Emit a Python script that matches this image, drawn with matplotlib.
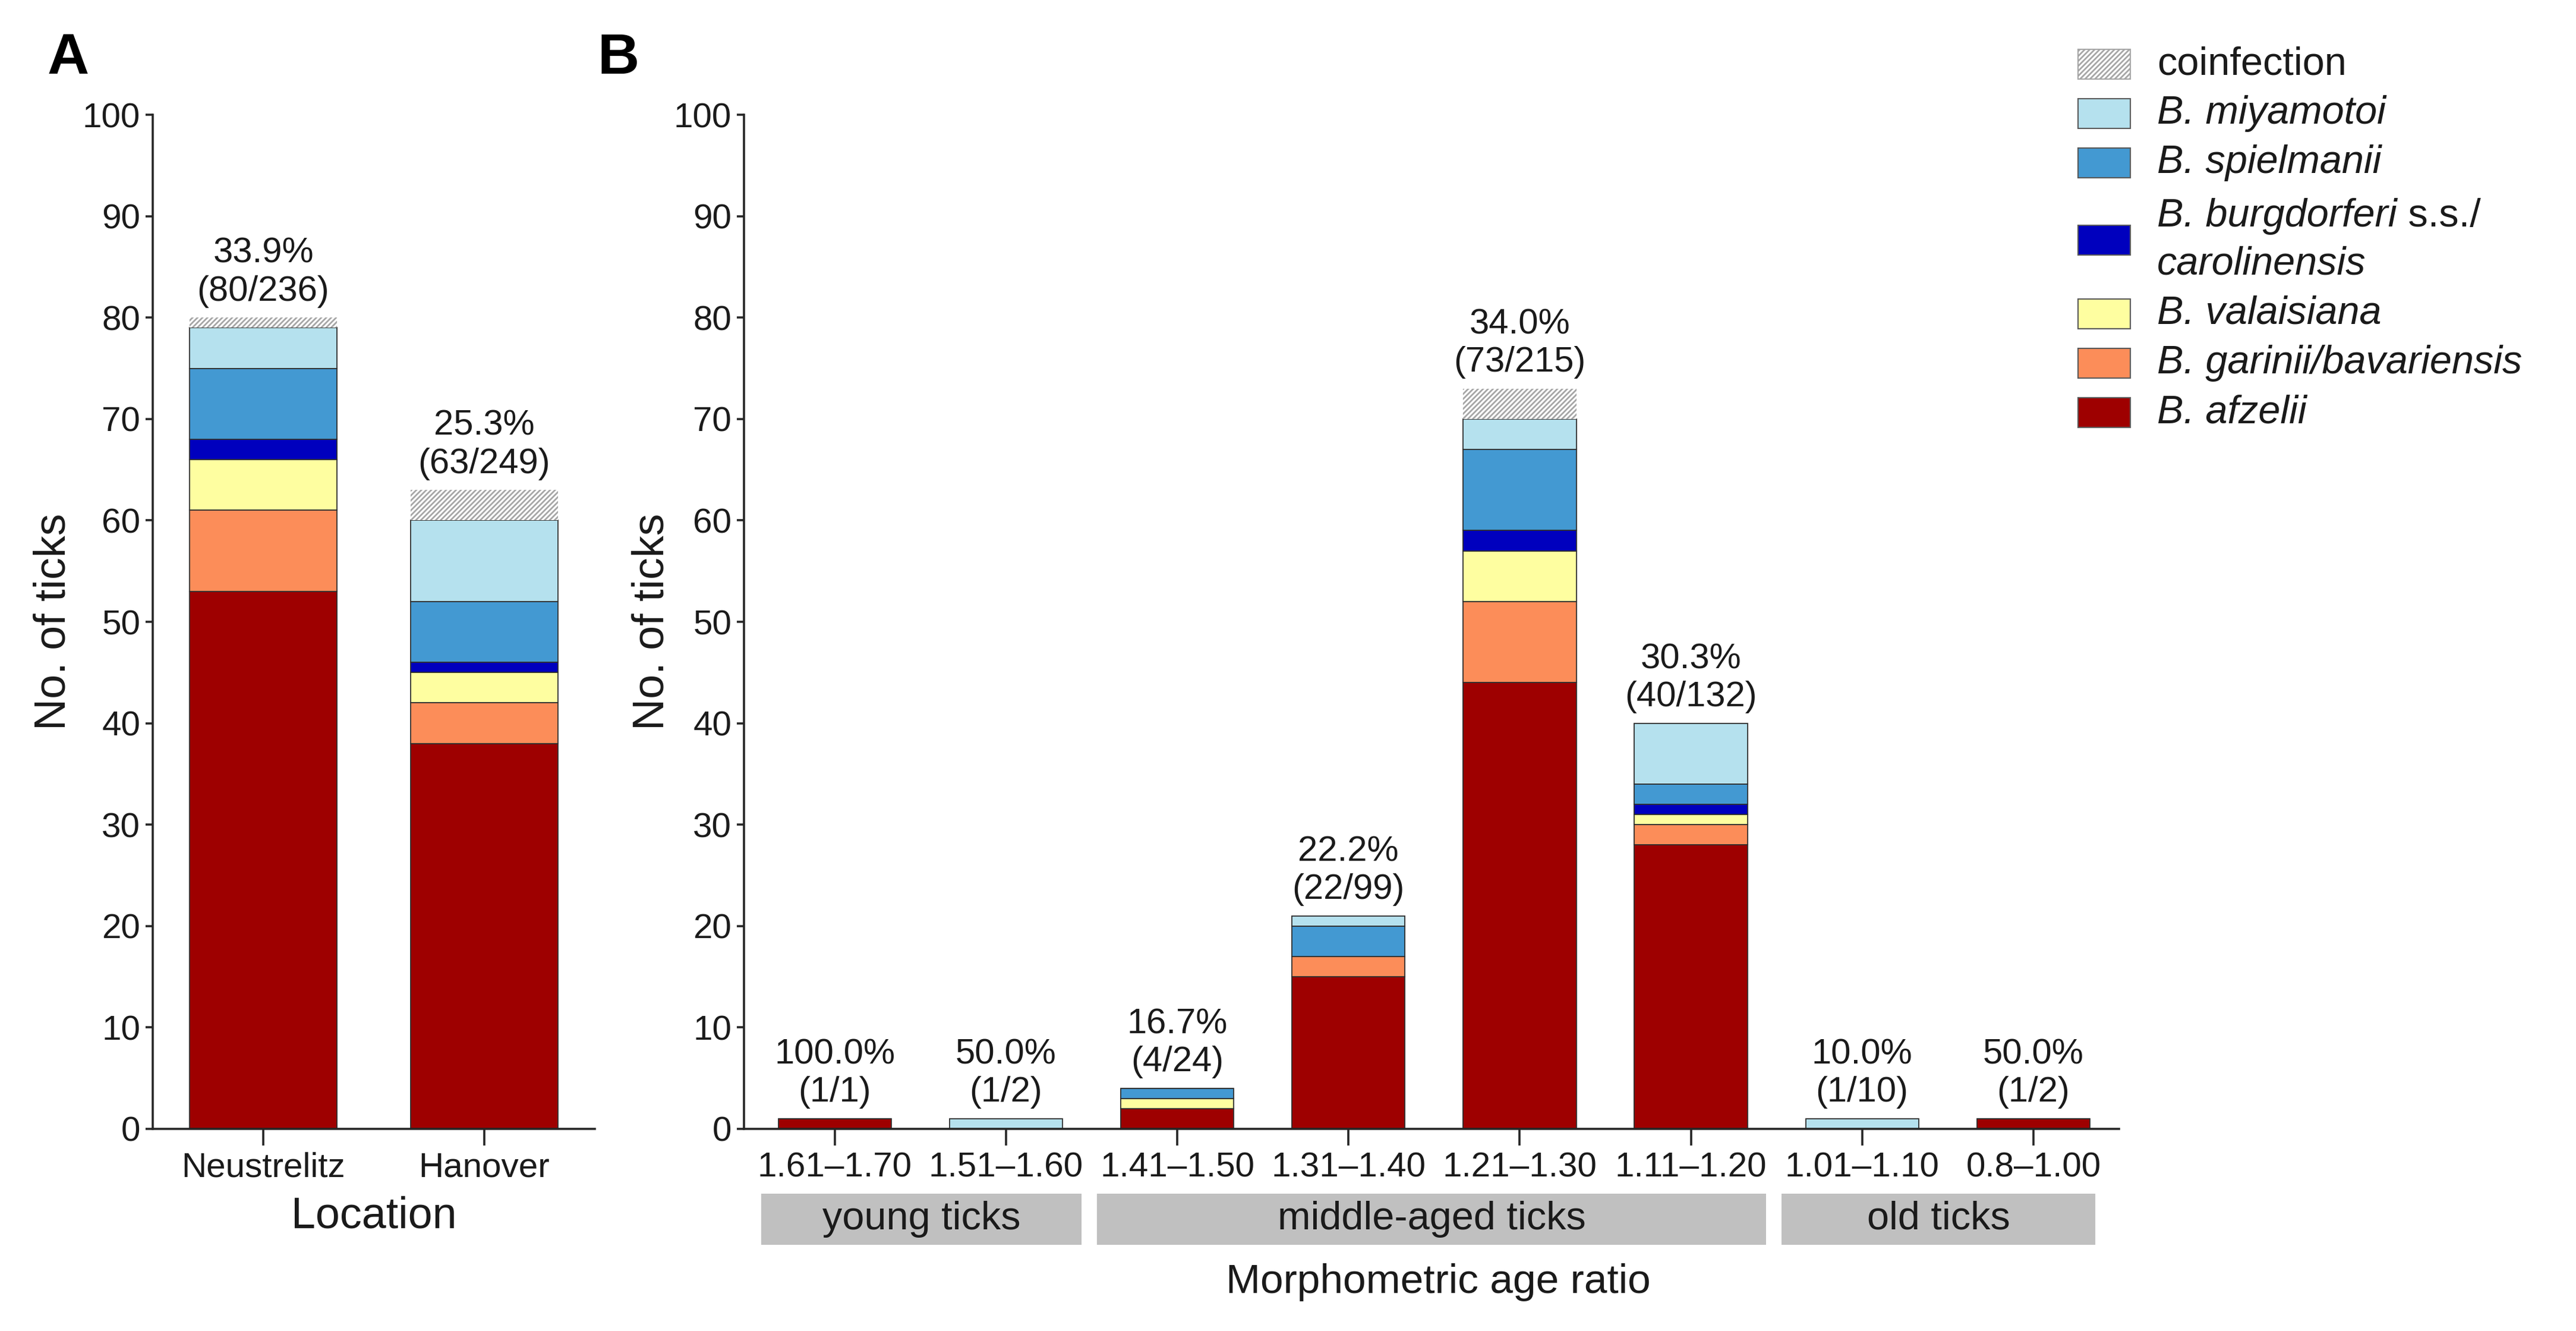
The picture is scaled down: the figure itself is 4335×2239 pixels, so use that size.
import matplotlib
matplotlib.use('Agg')
import matplotlib.pyplot as plt
import matplotlib.transforms as mtransforms
from matplotlib.patches import Rectangle
import numpy as np

plt.rcParams['font.family'] = ['Liberation Sans', 'DejaVu Sans']
plt.rcParams['hatch.linewidth'] = 2.0

# ---------------- data ----------------
species = ['B. afzelii', 'B. garinii/bavariensis', 'B. valaisiana',
           'B. burgdorferi s.s./carolinensis', 'B. spielmanii', 'B. miyamotoi', 'coinfection']
# legend text: list of lines, each line a list of (text, italic) pieces
legend_labels = [[[('B. afzelii', True)]],
                 [[('B. garinii/bavariensis', True)]],
                 [[('B. valaisiana', True)]],
                 [[('B. burgdorferi', True), (' s.s./', False)], [('carolinensis', True)]],
                 [[('B. spielmanii', True)]],
                 [[('B. miyamotoi', True)]],
                 [[('coinfection', False)]]]
colors = ['#9E0000', '#FC8D59', '#FEFEA0', '#0000BE', '#4399D2', '#B5E1EE', 'white']

locations = ['Neustrelitz', 'Hanover']
loc_afzelii = [53, 38]
loc_garinii = [8, 4]
loc_valaisiana = [5, 3]
loc_burgdorferi = [2, 1]
loc_spielmanii = [7, 6]
loc_miyamotoi = [4, 8]
loc_coinfection = [1, 3]
loc_labels = ['33.9%\n(80/236)', '25.3%\n(63/249)']

age_ratios = ['1.61–1.70', '1.51–1.60', '1.41–1.50', '1.31–1.40',
              '1.21–1.30', '1.11–1.20', '1.01–1.10', '0.8–1.00']
age_afzelii = [1, 0, 2, 15, 44, 28, 0, 1]
age_garinii = [0, 0, 0, 2, 8, 2, 0, 0]
age_valaisiana = [0, 0, 1, 0, 5, 1, 0, 0]
age_burgdorferi = [0, 0, 0, 0, 2, 1, 0, 0]
age_spielmanii = [0, 0, 1, 3, 8, 2, 0, 0]
age_miyamotoi = [0, 1, 0, 1, 3, 6, 1, 0]
age_coinfection = [0, 0, 0, 0, 3, 0, 0, 0]
age_labels = ['100.0%\n(1/1)', '50.0%\n(1/2)', '16.7%\n(4/24)', '22.2%\n(22/99)',
              '34.0%\n(73/215)', '30.3%\n(40/132)', '10.0%\n(1/10)', '50.0%\n(1/2)']
age_groups = ['young ticks', 'middle-aged ticks', 'old ticks']
age_group_first = [0, 2, 6]
age_group_last = [1, 5, 7]

loc_series = [loc_afzelii, loc_garinii, loc_valaisiana, loc_burgdorferi,
              loc_spielmanii, loc_miyamotoi, loc_coinfection]
age_series = [age_afzelii, age_garinii, age_valaisiana, age_burgdorferi,
              age_spielmanii, age_miyamotoi, age_coinfection]

# ---------------- figure ----------------
W, H = 4335, 2239
fig = plt.figure(figsize=(W / 100, H / 100), dpi=100)

def fx(px):
    return px / W

def fy(py):
    return 1 - py / H

ax_top, ax_bot = 193, 1899
axA = fig.add_axes([fx(257), fy(ax_bot), fx(1001 - 257), (ax_bot - ax_top) / H])
axB = fig.add_axes([fx(1252), fy(ax_bot), fx(3566 - 1252), (ax_bot - ax_top) / H])

EDGE = '#2e2e2e'
HATCH_GREY = '#a6a6a6'
TICK_FS = 42
AXIS_LW = 2.6


def stacked(ax, series, width):
    n = len(series[0])
    x = np.arange(n)
    bottom = np.zeros(n)
    for vals, col, name in zip(series, colors, species):
        vals = np.asarray(vals, dtype=float)
        if name == 'coinfection':
            ax.bar(x, vals, width, bottom=bottom, color=col, edgecolor=HATCH_GREY,
                   linewidth=0, hatch='////', zorder=2)
        else:
            ax.bar(x, vals, width, bottom=bottom, color=col, edgecolor=EDGE,
                   linewidth=1.3, zorder=2)
        bottom += vals
    return x, bottom


def style(ax, xlim, labels, ylabel_x):
    ax.set_ylim(0, 100)
    ax.set_xlim(*xlim)
    ax.set_yticks(np.arange(0, 101, 10))
    ax.set_xticks(np.arange(len(labels)))
    ax.set_xticklabels(labels)
    for s in ['top', 'right']:
        ax.spines[s].set_visible(False)
    for s in ['left', 'bottom']:
        ax.spines[s].set_linewidth(AXIS_LW)
        ax.spines[s].set_color('#262626')
    ax.tick_params(axis='y', length=9, width=AXIS_LW, labelsize=TICK_FS,
                   pad=6, color='#262626', labelcolor='#1a1a1a')
    ax.tick_params(axis='x', length=20, width=AXIS_LW, labelsize=TICK_FS,
                   pad=8, color='#262626', labelcolor='#1a1a1a')
    ax.set_ylabel('No. of ticks', fontsize=53, color='#1a1a1a')
    ax.yaxis.set_label_coords(ylabel_x, 0.5)


def annotate(ax, x, tops, labels):
    for xi, top, lab in zip(x, tops, labels):
        ax.annotate(lab, xy=(xi, top), xytext=(0, 12), textcoords='offset points',
                    ha='center', va='bottom', fontsize=43, linespacing=1.2,
                    color='#1a1a1a')


# Panel A
xA, topsA = stacked(axA, loc_series, 0.667)
style(axA, (-0.5, 1.5), locations, -0.178)
annotate(axA, xA, topsA, loc_labels)

# Panel B
xB, topsB = stacked(axB, age_series, 0.66)
style(axB, (-0.53, 7.5), age_ratios, -0.052)
annotate(axB, xB, topsB, age_labels)

# age-group boxes below panel B
trans = mtransforms.blended_transform_factory(axB.transData, axB.transAxes)
box_top = (ax_bot - 2008) / (ax_bot - ax_top)
box_bot = (ax_bot - 2094) / (ax_bot - ax_top)
for name, i0, i1 in zip(age_groups, age_group_first, age_group_last):
    left = i0 - 0.43
    right = i1 + 0.44
    if i0 > 0:
        left = i0 - 0.47
    if i1 == len(age_ratios) - 1:
        right = i1 + 0.36
    axB.add_patch(Rectangle((left, box_bot), right - left, box_top - box_bot,
                            transform=trans, facecolor='#C0C0C0', edgecolor='none',
                            clip_on=False))
    axB.text((left + right) / 2, (box_top + box_bot) / 2, name, transform=trans,
             ha='center', va='center', fontsize=48, color='#1a1a1a')

# axis titles
fig.text(fx(629), fy(2046), 'Location', ha='center', va='center', fontsize=53, color='#1a1a1a')
fig.text(fx(2420), fy(2157), 'Morphometric age ratio', ha='center', va='center',
         fontsize=50, color='#1a1a1a')

# panel letters
fig.text(fx(80), fy(124), 'A', fontsize=70, fontweight='bold', ha='left', va='baseline')
fig.text(fx(1006), fy(124), 'B', fontsize=70, fontweight='bold', ha='left', va='baseline')

# legend (top = coinfection, bottom = B. afzelii)
leg_rows = [694, 611, 528, 404, 274, 191, 108]   # y centres in px, same order as species
line_gap = 80                                     # px between lines of a two-line entry
patch_w, patch_h = 88, 50
LEG_FS = 48
renderer = fig.canvas.get_renderer()
for lines, col, name, yc in zip(legend_labels, colors, species, leg_rows):
    hatch = '////' if name == 'coinfection' else None
    ec = HATCH_GREY if name == 'coinfection' else '#5a5a5a'
    fig.patches.append(Rectangle((fx(3497), fy(yc + patch_h / 2)), fx(patch_w), patch_h / H,
                                 transform=fig.transFigure, facecolor=col, edgecolor=ec,
                                 linewidth=1.5, hatch=hatch))
    nlines = len(lines)
    for li, pieces in enumerate(lines):
        ly = yc + (li - (nlines - 1) / 2) * line_gap
        xpx = 3630
        for txt, ital in pieces:
            t = fig.text(fx(xpx), fy(ly), txt, ha='left', va='center', fontsize=LEG_FS,
                         color='#1a1a1a', fontstyle='italic' if ital else 'normal')
            bb = t.get_window_extent(renderer=renderer)
            xpx += bb.width

fig.savefig('out.png', dpi=100, facecolor='white')
